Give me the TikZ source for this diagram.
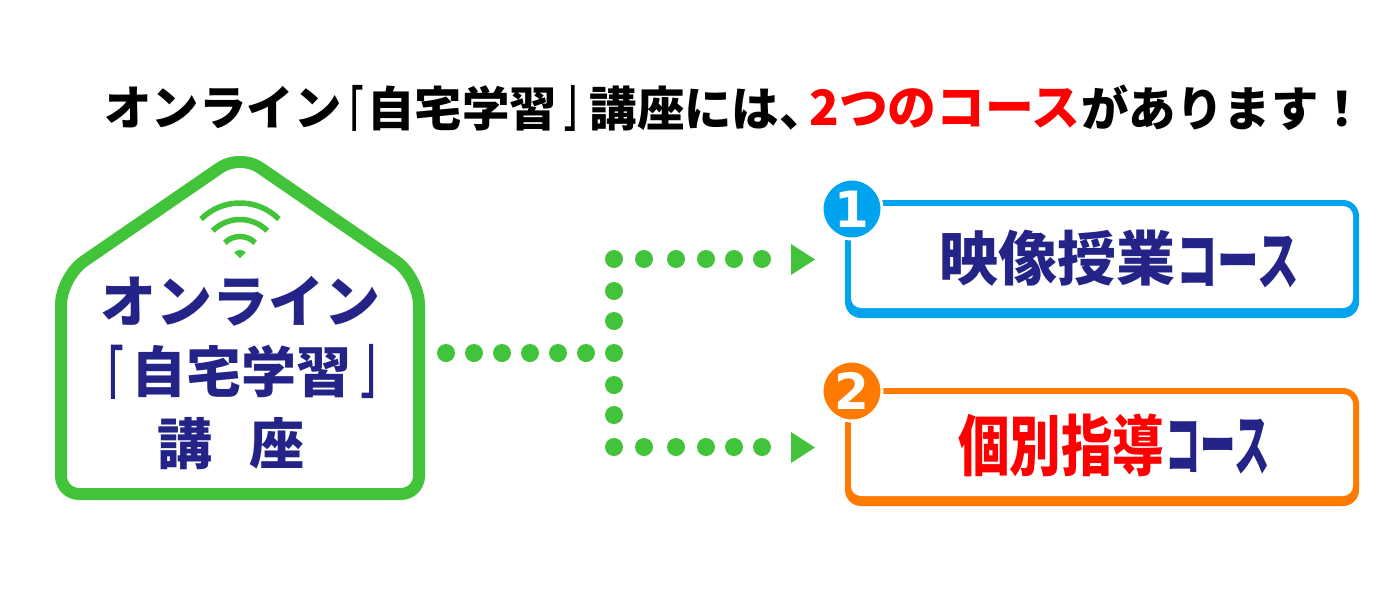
\documentclass[tikz,border=0pt]{standalone}
\usepackage{fontspec}
\usepackage{graphicx}
\usepackage{xcolor}
\usetikzlibrary{positioning}
\newfontfamily\cjkb{Noto Sans CJK JP Black}
\newfontfamily\cjkbr{Noto Sans CJK JP Thin}[FakeStretch=0.36, FakeBold=4]
\newfontfamily\numf{DejaVu Sans Bold}
\definecolor{hgreen}{HTML}{42C43A}
\definecolor{hnavy}{HTML}{232388}
\definecolor{hblue}{HTML}{00A3EE}
\definecolor{horange}{HTML}{FF7A00}
\definecolor{hred}{HTML}{FF0000}

\begin{document}
\begin{tikzpicture}[
    x=0.5pt, y=-0.5pt,
    dot/.style={circle, fill=hgreen, inner sep=0pt, minimum size=9pt},
    tip/.style={fill=hgreen, draw=none},
    num/.style={circle, draw=white, line width=1.5pt, text=white, minimum size=30pt, inner sep=0pt, font=\numf\fontsize{25pt}{25pt}\selectfont},
    hd/.style={inner sep=0pt, anchor=west, font=\cjkb\fontsize{23.7pt}{23.7pt}\selectfont},
    hdbr/.style={inner sep=0pt, font=\cjkbr\fontsize{33pt}{33pt}\selectfont},
    lbl/.style={inner sep=0pt, text=hnavy, font=\cjkb\fontsize{27.5pt}{27.5pt}\selectfont},
    lblbr/.style={inner sep=0pt, text=hnavy, font=\cjkbr\fontsize{39pt}{39pt}\selectfont},
    wifi/.style={draw=hgreen, line width=2.75pt}
]
\useasboundingbox (0,0) rectangle (1400,589);
\fill[white] (0,0) rectangle (1400,589);

% heading
\node[hd] (h1) at (104,108) {オンライン};
\node[hd, right=12.5pt of h1.east, anchor=west] (h2) {自宅学習};
\node[hdbr] (h2l) at (350,114) {「};
\node[hdbr] (h2r) at (577,108) {」};
\node[hd, right=16pt of h2.east, anchor=west] (h3) {講座には、};
\node[hd, right=-9pt of h3.east, anchor=west, text=hred, font=\cjkb\fontsize{24.4pt}{24.4pt}\selectfont] (h4) {2つのコース};
\node[hd, right=0pt of h4.east, anchor=west] (h5) {があります！};

% house
\draw[hgreen, line width=6pt, line join=round]
  (240,494) [rounded corners=9pt] -- (61,494) [rounded corners=14pt] -- (61,277) [rounded corners=12pt] -- (240,154)
  [rounded corners=14pt] -- (419,277) [rounded corners=9pt] -- (419,494) -- cycle;
\draw[wifi] (240,258) ++(-135:55) arc[start angle=-135, end angle=-45, radius=55];
\draw[wifi] (240,258) ++(-135:38.5) arc[start angle=-135, end angle=-45, radius=38.5];
\draw[wifi] (240,258) ++(-135:21.5) arc[start angle=-135, end angle=-45, radius=21.5];
\fill[hgreen] (240,258) -- ++(-135:8) arc[start angle=-135, end angle=-45, radius=8] -- cycle;
\node[lbl, font=\cjkb\fontsize{28pt}{28pt}\selectfont] (hname) at (240,301) {オンライン};
\node[lbl] (hhome) at (241,371) {自宅学習};
\node[lblbr] (hhl) at (108,379) {「};
\node[lblbr] (hhr) at (376,371) {」};
\node[lbl] (hcourse) at (231,444) {講\hspace{19pt}座};

% dots
\foreach \x in {446,474,502,530,558,586} \node[dot] at (\x,353) {};
\foreach \y in {259,291,321,353,385,415,447} \node[dot] at (614,\y) {};
\foreach \x in {644,676,706,734,762} {
  \node[dot] at (\x,259) {};
  \node[dot] at (\x,447) {};
}
\fill[tip] (791,244) -- (815,259.5) -- (791,275) -- cycle;
\fill[tip] (791,432) -- (815,447.5) -- (791,463) -- cycle;

% boxes
\fill[hblue, rounded corners=8pt] (845,200) rectangle (1359,318);
\fill[white, rounded corners=5pt] (851,206) rectangle (1353,308);
\fill[horange, rounded corners=8pt] (845,388) rectangle (1359,506);
\fill[white, rounded corners=5pt] (851,394) rectangle (1353,496);
\node[num, fill=hblue] (n1) at (852,209) {1};
\node[num, fill=horange] (n2) at (852,391) {2};
\node[lbl, anchor=west, font=\cjkb\fontsize{29.5pt}{29.5pt}\selectfont] (c1) at (939,258) {映像授業};
\node[lbl, right=0pt of c1.east, anchor=west, font=\cjkb\fontsize{32pt}{32pt}\selectfont, yshift=-2pt] (c1b) {\scalebox{0.65}[1]{コース}};
\node[lbl, anchor=west, text=hred, font=\cjkb\fontsize{33pt}{33pt}\selectfont] (c2) at (958,445) {\scalebox{0.78}[1]{個別指導}};
\node[lbl, right=0pt of c2.east, anchor=west, font=\cjkb\fontsize{34pt}{34pt}\selectfont, yshift=-1pt] (c2b) {\scalebox{0.52}[1]{コース}};
\end{tikzpicture}
\end{document}
